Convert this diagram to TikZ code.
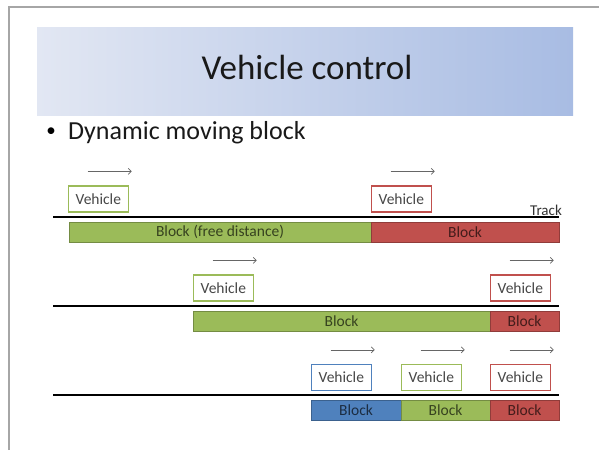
\documentclass[tikz,border=0pt]{standalone}
\usepackage{fontspec}
\setmainfont{Carlito}
\usetikzlibrary{positioning, arrows.meta}

\definecolor{bargreen}{HTML}{9BBB59}
\definecolor{barred}{HTML}{C0504D}
\definecolor{barblue}{HTML}{4F81BD}
\definecolor{bandleft}{HTML}{E2E7F3}
\definecolor{bandright}{HTML}{A8BCE3}

\tikzset{
  vehicle/.style={draw=bar#1, fill=white, line width=1.3pt, minimum width=60pt, minimum height=26pt,
    inner sep=0pt, font=\fontsize{15.5}{18}\selectfont, text=black!72},
  block/.style={fill=bar#1, draw=bar#1!75!black, line width=0.6pt, minimum height=20pt,
    inner sep=0pt, font=\fontsize{15.5}{18}\selectfont, text=bar#1!35!black},
  move/.style={-{Straight Barb[length=3pt, width=6pt]}, black!60, line width=0.7pt},
  track/.style={line width=1.8pt},
}

\begin{document}
\begin{tikzpicture}[x=1pt, y=-1pt]
    \useasboundingbox (0,0) rectangle (599,450);
    \draw[black!35, line width=1.4pt] (9,450) -- (9,7) -- (599,7);

    % Title
    \node[left color=bandleft, right color=bandright, minimum width=536pt, minimum height=88pt, inner sep=0pt] (band) at (305,71) {};
    \node[anchor=base, font=\fontsize{35}{40}\selectfont, text=black!90] (title) at (307,79) {Vehicle control};
    \node[anchor=base, font=\fontsize{19}{22}\selectfont, inner sep=0pt] (bullet) at (51,136) {\textbullet};
    \node[anchor=base west, font=\fontsize{26}{30}\selectfont, inner sep=0pt, text=black!90] (point) at (68,139) {Dynamic moving block};

    % Blocks
    \node[block=green, minimum width=302pt] (free1) at (220,232) {Block (free distance)};
    \node[block=red, minimum width=188pt] (red1) at (465,232) {Block};
    \node[block=green, minimum width=297pt] (free2) at (341.5,321) {Block};
    \node[block=red, minimum width=69pt] (red2) at (524.5,321) {Block};
    \node[block=blue, minimum width=90pt] (blue3) at (356,410.5) {Block};
    \node[block=green, minimum width=89pt] (free3) at (445.5,410.5) {Block};
    \node[block=red, minimum width=69pt] (red3) at (524.5,410.5) {Block};

    % Vehicles
    \node[vehicle=green, above right=9pt and -1pt of free1.north west, anchor=south west] (veh1a) {Vehicle};
    \node[vehicle=red, above right=9pt and 0pt of red1.north west, anchor=south west] (veh1b) {Vehicle};
    \node[vehicle=green, above right=9pt and 0pt of free2.north west, anchor=south west] (veh2a) {Vehicle};
    \node[vehicle=red, above right=9pt and 0pt of red2.north west, anchor=south west] (veh2b) {Vehicle};
    \node[vehicle=blue, above right=9pt and 0pt of blue3.north west, anchor=south west] (veh3a) {Vehicle};
    \node[vehicle=green, above right=9pt and 0pt of free3.north west, anchor=south west] (veh3b) {Vehicle};
    \node[vehicle=red, above right=9pt and 0pt of red3.north west, anchor=south west] (veh3c) {Vehicle};

    % Track
    \coordinate (track1) at (53,217);
    \coordinate (track2) at (53,306);
    \coordinate (track3) at (53,395);
    \draw[track] (track1) -- (track1 -| red1.east);
    \draw[track] (track2) -- (track2 -| red2.east);
    \draw[track] (track3) -- (track3 -| red3.east);
    \node[anchor=south east, inner sep=1pt, font=\fontsize{15}{18}\selectfont, text=black!80] (tracklbl) at (563,217) {Track};

    % Arrows
    \foreach \v in {veh1a,veh1b,veh2a,veh2b,veh3a,veh3b,veh3c}
        \draw[move] ([shift={(20pt,14pt)}]\v.north west) -- ++(44pt,0pt);
\end{tikzpicture}
\end{document}
